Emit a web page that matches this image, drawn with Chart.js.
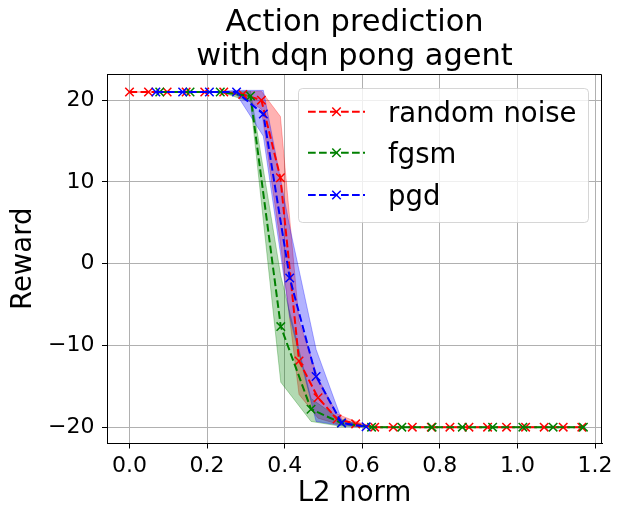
<!DOCTYPE html>
<html>
<head>
<meta charset="utf-8">
<script src="https://cdn.jsdelivr.net/npm/chart.js@4.4.1/dist/chart.umd.min.js"></script>
<style>
  html, body { margin: 0; padding: 0; background: #fff; }
  #c { display: block; }
</style>
</head>
<body>
<canvas id="c" width="624" height="521"></canvas>
<script>
// ---------- data ----------
const titleLines = ['Action prediction', 'with dqn pong agent'];
const xLabel = 'L2 norm';
const yLabel = 'Reward';
const xTicks = [0.0, 0.2, 0.4, 0.6, 0.8, 1.0, 1.2];
const yTicks = [-20, -10, 0, 10, 20];
const seriesNames = ['random noise', 'fgsm', 'pgd'];

// random noise
const randomX = [0, 0.049, 0.097, 0.146, 0.194, 0.243, 0.292, 0.340, 0.389, 0.437, 0.486, 0.535, 0.583,
                 0.632, 0.680, 0.729, 0.778, 0.826, 0.875, 0.923, 0.972, 1.021, 1.069, 1.118, 1.166];
const randomY = [21, 21, 21, 21, 21, 21, 20.7, 20.0, 10.5, -11.9, -16.4, -19.0, -19.6,
                 -20, -20, -20, -20, -20, -20, -20, -20, -20, -20, -20, -20];
const randomUpper = [21, 21, 21, 21, 21, 21, 21.0, 21.1, 18.0, -7.0, -14.0, -18.4, -19.3,
                 -20, -20, -20, -20, -20, -20, -20, -20, -20, -20, -20, -20];
const randomLower = [21, 21, 21, 21, 21, 21, 20.4, 18.9, 2.5, -16.0, -18.9, -19.6, -19.9,
                 -20, -20, -20, -20, -20, -20, -20, -20, -20, -20, -20, -20];

// fgsm
const fgsmX = [0.078, 0.156, 0.234, 0.312, 0.390, 0.468, 0.546, 0.624, 0.702, 0.780, 0.858, 0.936, 1.014, 1.092, 1.170];
const fgsmY = [21, 21, 21, 20.5, -7.7, -17.8, -19.5, -20, -20, -20, -20, -20, -20, -20, -20];
const fgsmUpper = [21, 21, 21, 21.1, -1.5, -16.5, -19.1, -20, -20, -20, -20, -20, -20, -20, -20];
const fgsmLower = [21, 21, 21, 19.8, -14.5, -19.3, -19.9, -20, -20, -20, -20, -20, -20, -20, -20];

// pgd
const pgdX = [0.068, 0.137, 0.206, 0.276, 0.345, 0.413, 0.481, 0.547, 0.610];
const pgdY = [21, 21, 21, 21, 18.3, -1.75, -13.8, -19.5, -19.95];
const pgdUpper = [21, 21, 21, 21.2, 21.2, 4.5, -10.5, -19.1, -19.9];
const pgdLower = [21, 21, 21, 20.7, 15.6, -6.5, -19.3, -19.8, -20];

// ---------- styling ----------
const COLORS = { red: '#ff0000', green: '#008000', blue: '#0000ff' };
const BANDS = { red: 'rgba(255,0,0,0.3)', green: 'rgba(0,128,0,0.3)', blue: 'rgba(0,0,255,0.3)' };
const DASH = [7.7, 3.3];
const FONT = 'DejaVu Sans';

function pts(xs, ys) { return xs.map((x, i) => ({ x: x, y: ys[i] })); }

function lineDs(label, xs, ys, color, order) {
  return {
    label: label, data: pts(xs, ys), borderColor: color, backgroundColor: color,
    borderWidth: 2, borderDash: DASH, fill: false, tension: 0,
    pointStyle: 'crossRot', pointRadius: 6, pointBorderWidth: 1.5,
    pointBorderColor: color, pointBackgroundColor: color, order: order
  };
}
function bandDs(xs, ys, color, fill, order) {
  return {
    label: '', data: pts(xs, ys), borderColor: color, backgroundColor: color,
    borderWidth: 1, fill: fill, tension: 0, pointRadius: 0, order: order
  };
}

const datasets = [
  lineDs(seriesNames[0], randomX, randomY, COLORS.red, 2),
  lineDs(seriesNames[1], fgsmX, fgsmY, COLORS.green, 1),
  lineDs(seriesNames[2], pgdX, pgdY, COLORS.blue, 0),
  bandDs(pgdX, pgdUpper, BANDS.blue, '+1', 3),
  bandDs(pgdX, pgdLower, BANDS.blue, false, 3),
  bandDs(fgsmX, fgsmUpper, BANDS.green, '+1', 4),
  bandDs(fgsmX, fgsmLower, BANDS.green, false, 4),
  bandDs(randomX, randomUpper, BANDS.red, '+1', 5),
  bandDs(randomX, randomLower, BANDS.red, false, 5)
];

function drawCross(ctx, x, y, r, color, lw) {
  const o = r * Math.SQRT1_2;
  ctx.save();
  ctx.setLineDash([]);
  ctx.strokeStyle = color; ctx.lineWidth = lw;
  ctx.beginPath();
  ctx.moveTo(x - o, y - o); ctx.lineTo(x + o, y + o);
  ctx.moveTo(x - o, y + o); ctx.lineTo(x + o, y - o);
  ctx.stroke();
  ctx.restore();
}

const decorPlugin = {
  id: 'decor',
  afterDraw(chart) {
    const ctx = chart.ctx;
    const a = chart.chartArea;
    // top & right spines
    ctx.save();
    ctx.strokeStyle = '#000'; ctx.lineWidth = 1; ctx.setLineDash([]);
    ctx.beginPath();
    ctx.moveTo(a.left, Math.round(a.top) + 0.5);
    ctx.lineTo(Math.round(a.right) - 0.5, Math.round(a.top) + 0.5);
    ctx.lineTo(Math.round(a.right) - 0.5, a.bottom);
    ctx.stroke();
    ctx.restore();

    // title
    ctx.save();
    ctx.fillStyle = '#000';
    ctx.font = '30.5px "' + FONT + '"';
    ctx.textAlign = 'center'; ctx.textBaseline = 'alphabetic';
    const cx = (a.left + a.right) / 2;
    ctx.fillText(titleLines[0], cx, 31);
    ctx.fillText(titleLines[1], cx, 65);
    ctx.restore();

    // legend
    const lx = 298.5, ly = 88.5, lw = 290, lh = 134;
    ctx.save();
    ctx.beginPath();
    ctx.roundRect(lx, ly, lw, lh, 4);
    ctx.fillStyle = 'rgba(255,255,255,0.8)';
    ctx.fill();
    ctx.strokeStyle = 'rgba(204,204,204,0.8)';
    ctx.lineWidth = 1;
    ctx.stroke();
    const rows = [111.7, 152.7, 195];
    const cols = [COLORS.red, COLORS.green, COLORS.blue];
    for (let i = 0; i < 3; i++) {
      const y = rows[i];
      ctx.save();
      ctx.strokeStyle = cols[i]; ctx.lineWidth = 2; ctx.setLineDash(DASH);
      ctx.beginPath(); ctx.moveTo(308, y); ctx.lineTo(365, y); ctx.stroke();
      ctx.restore();
      drawCross(ctx, 336.5, y, 6, cols[i], 1.5);
      ctx.fillStyle = '#000';
      ctx.font = '27.5px "' + FONT + '"';
      ctx.textAlign = 'left'; ctx.textBaseline = 'alphabetic';
      ctx.fillText(seriesNames[i], 388, y + 10);
    }
    ctx.restore();
  }
};

Chart.defaults.font.family = FONT;
Chart.defaults.color = '#000';

new Chart(document.getElementById('c'), {
  type: 'line',
  data: { datasets: datasets },
  options: {
    responsive: false,
    animation: false,
    events: [],
    devicePixelRatio: 1,
    layout: { padding: { top: 74, right: 22, left: 0, bottom: 0 } },
    plugins: {
      legend: { display: false },
      title: { display: false },
      tooltip: { enabled: false },
      filler: { propagate: false }
    },
    scales: {
      x: {
        type: 'linear', min: -0.058, max: 1.218,
        afterFit: s => { s.height = 77.5; },
        afterBuildTicks: s => { s.ticks = xTicks.map(v => ({ value: v })); },
        ticks: {
          font: { size: 22 }, color: '#000', padding: 5, maxRotation: 0, autoSkip: false,
          callback: v => Number(v).toFixed(1)
        },
        grid: { color: '#b0b0b0', lineWidth: 1, tickColor: '#000', tickLength: 5 },
        border: { color: '#000', width: 1 },
        title: { display: true, text: xLabel, font: { size: 27.5 }, color: '#000', padding: { top: 4, bottom: 10.5 } }
      },
      y: {
        type: 'linear', min: -22.0, max: 23.2,
        afterFit: s => { s.width = 107; },
        afterBuildTicks: s => { s.ticks = yTicks.map(v => ({ value: v })); },
        ticks: {
          font: { size: 22 }, color: '#000', padding: 7.5, autoSkip: false,
          callback: v => (v < 0 ? '\u2212' + Math.abs(v) : String(v))
        },
        grid: { color: '#b0b0b0', lineWidth: 1, tickColor: '#000', tickLength: 5 },
        border: { color: '#000', width: 1 },
        title: { display: true, text: yLabel, font: { size: 27.5 }, color: '#000', padding: { top: 7.5, bottom: 4 } }
      }
    }
  },
  plugins: [decorPlugin]
});
</script>
</body>
</html>
